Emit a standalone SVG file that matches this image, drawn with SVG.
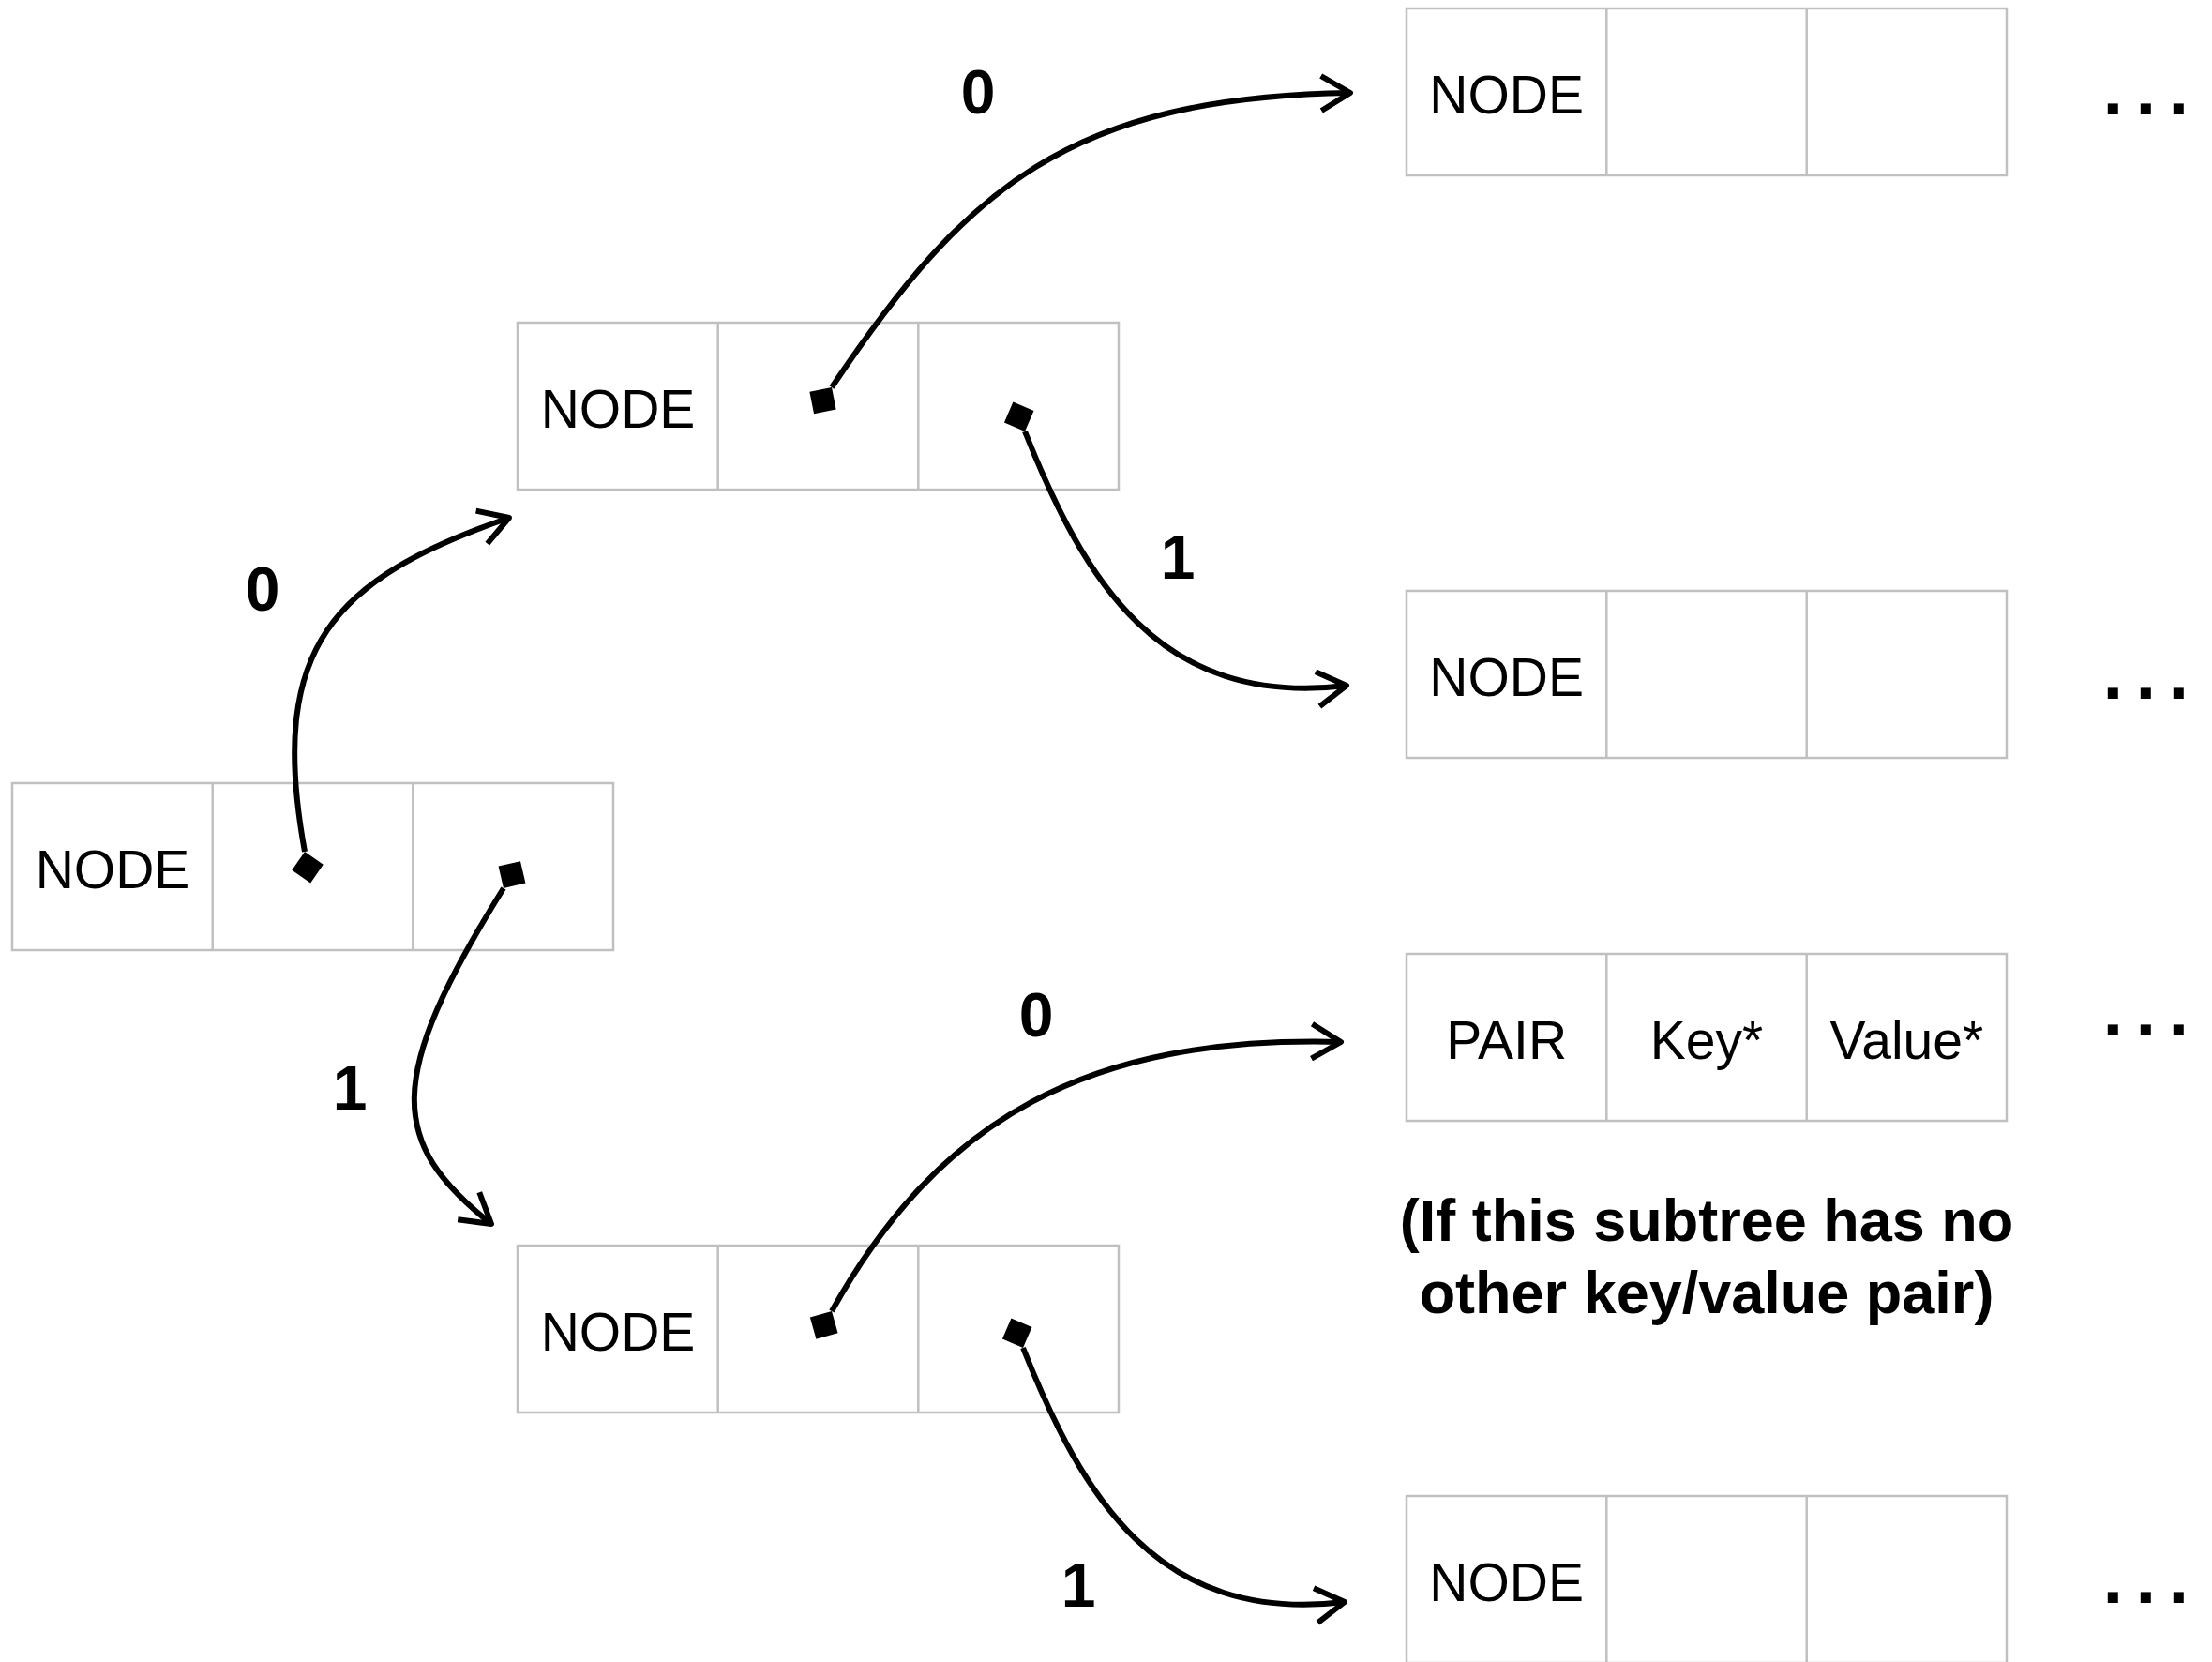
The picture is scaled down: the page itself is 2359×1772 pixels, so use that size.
<svg xmlns="http://www.w3.org/2000/svg" width="2359" height="1772" viewBox="0 0 2359 1772">
<style>
  .box{fill:#fff;stroke:#c0c0c0;stroke-width:2.5}
  .div{stroke:#c0c0c0;stroke-width:2.5}
  .t{font-family:"Liberation Sans",Arial,sans-serif;font-size:57px;fill:#000;text-anchor:middle}
  .lbl{font-family:"Liberation Sans",Arial,sans-serif;font-weight:bold;font-size:66px;fill:#000;text-anchor:middle}
  .dots{font-family:"Liberation Sans",Arial,sans-serif;font-weight:bold;font-size:78px;letter-spacing:13.3px;fill:#000}
  .note{font-family:"Liberation Sans",Arial,sans-serif;font-weight:bold;font-size:63px;fill:#000;text-anchor:middle}
  .conn{fill:none;stroke:#000;stroke-width:6;marker-start:url(#dia);marker-end:url(#arr)}
</style>
<defs>
  <marker id="dia" markerUnits="userSpaceOnUse" orient="auto" viewBox="-40 -20 44 40" markerWidth="44" markerHeight="40" refX="0" refY="0" overflow="visible">
    <path d="M0,0 L-17,-17 L-34,0 L-17,17 Z" fill="#000"/>
  </marker>
  <marker id="arr" markerUnits="userSpaceOnUse" orient="auto" viewBox="-40 -25 46 50" markerWidth="46" markerHeight="50" refX="0" refY="0" overflow="visible">
    <path d="M-31,-18.5 L0,0 L-31,18.5" fill="none" stroke="#000" stroke-width="6" stroke-linejoin="round"/>
  </marker>
</defs>

<g id="node-root">
  <rect class="box" x="13" y="835" width="641" height="178"/>
  <line class="div" x1="226.7" y1="835" x2="226.7" y2="1013"/>
  <line class="div" x1="440.3" y1="835" x2="440.3" y2="1013"/>
  <text class="t" x="120" y="946.5">NODE</text>
</g>
<g id="node-0">
  <rect class="box" x="552" y="344" width="641" height="178"/>
  <line class="div" x1="765.7" y1="344" x2="765.7" y2="522"/>
  <line class="div" x1="979.3" y1="344" x2="979.3" y2="522"/>
  <text class="t" x="659" y="455.5">NODE</text>
</g>
<g id="node-1">
  <rect class="box" x="552" y="1328" width="641" height="178"/>
  <line class="div" x1="765.7" y1="1328" x2="765.7" y2="1506"/>
  <line class="div" x1="979.3" y1="1328" x2="979.3" y2="1506"/>
  <text class="t" x="659" y="1439.5">NODE</text>
</g>
<g id="node-00">
  <rect class="box" x="1500" y="9" width="640" height="178"/>
  <line class="div" x1="1713.3" y1="9" x2="1713.3" y2="187"/>
  <line class="div" x1="1926.7" y1="9" x2="1926.7" y2="187"/>
  <text class="t" x="1606.7" y="120.5">NODE</text>
  <text class="dots" x="2242.5" y="122">...</text>
</g>
<g id="node-01">
  <rect class="box" x="1500" y="630" width="640" height="178"/>
  <line class="div" x1="1713.3" y1="630" x2="1713.3" y2="808"/>
  <line class="div" x1="1926.7" y1="630" x2="1926.7" y2="808"/>
  <text class="t" x="1606.7" y="741.5">NODE</text>
  <text class="dots" x="2242.5" y="745">...</text>
</g>
<g id="pair-10">
  <rect class="box" x="1500" y="1017" width="640" height="178"/>
  <line class="div" x1="1713.3" y1="1017" x2="1713.3" y2="1195"/>
  <line class="div" x1="1926.7" y1="1017" x2="1926.7" y2="1195"/>
  <text class="t" x="1606.7" y="1128.5">PAIR</text>
  <text class="t" x="1820" y="1128.5">Key*</text>
  <text class="t" x="2033.3" y="1128.5">Value*</text>
  <text class="dots" x="2242.5" y="1104">...</text>
</g>
<g id="note">
  <text class="note" x="1820" y="1323">(If this subtree has no</text>
  <text class="note" x="1820" y="1400">other key/value pair)</text>
</g>
<g id="node-11">
  <rect class="box" x="1500" y="1595" width="640" height="178"/>
  <line class="div" x1="1713.3" y1="1595" x2="1713.3" y2="1773"/>
  <line class="div" x1="1926.7" y1="1595" x2="1926.7" y2="1773"/>
  <text class="t" x="1606.7" y="1706.5">NODE</text>
  <text class="dots" x="2242.5" y="1709">...</text>
</g>

<g id="connectors">
  <path class="conn" d="M325,908 C285,690 355,617 543,552"/>
  <path class="conn" d="M537,947 C409.8,1151 414.8,1218.2 524,1305"/>
  <path class="conn" d="M887,413 C1030,200 1140,104 1440,99"/>
  <path class="conn" d="M1093,460 C1155.9,618.1 1236,755 1436,731"/>
  <path class="conn" d="M887,1398 C1001.7,1192.8 1160,1104 1430,1111"/>
  <path class="conn" d="M1091,1437 C1153.9,1595.1 1234,1732 1434,1708"/>
  <text class="lbl" x="280" y="651">0</text>
  <text class="lbl" x="373" y="1183">1</text>
  <text class="lbl" x="1043" y="121">0</text>
  <text class="lbl" x="1256" y="617">1</text>
  <text class="lbl" x="1105" y="1105">0</text>
  <text class="lbl" x="1150" y="1713">1</text>
</g>
</svg>
